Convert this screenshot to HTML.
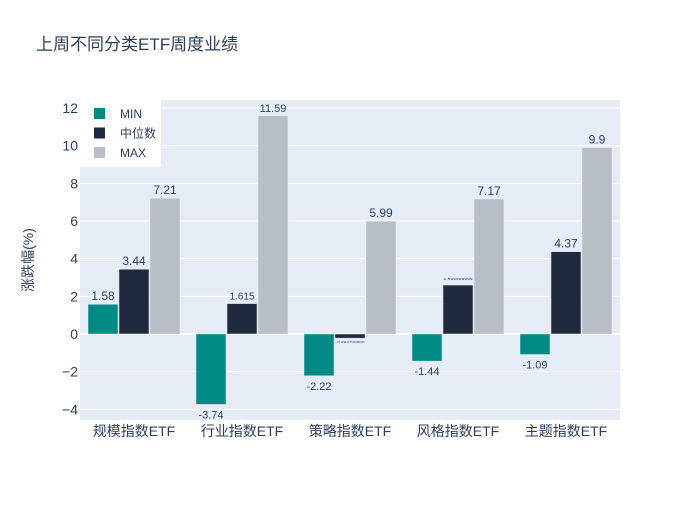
<!DOCTYPE html>
<html><head><meta charset="utf-8"><style>
body{margin:0;background:#fff;font-family:"Liberation Sans","Noto Sans CJK SC",sans-serif;}
</style></head><body>
<svg id="c" width="700" height="500" xmlns="http://www.w3.org/2000/svg" font-family="'Liberation Sans','Noto Sans CJK SC',sans-serif">
<text x="36" y="50" font-size="17" fill="#2a3f5f">上周不同分类ETF周度业绩</text>
<rect x="80" y="100" width="540" height="320" fill="#e5ecf6"/>
<g id="grid"></g><g id="bars"></g><g id="labels"></g>
<text transform="translate(33,260) rotate(-90)" text-anchor="middle" font-size="14" fill="#2a3f5f">涨跌幅(%)</text>
<g id="legend"></g>
</svg>
<script>
const categories=["规模指数ETF","行业指数ETF","策略指数ETF","风格指数ETF","主题指数ETF"];
const minVals=[1.58,-3.74,-2.22,-1.44,-1.09];
const medVals=[3.44,1.615,-0.22,2.6,4.37];
const maxVals=[7.21,11.59,5.99,7.17,9.9];
const minLabels=["1.58","-3.74","-2.22","-1.44","-1.09"];
const medLabels=["3.44","1.615","-0.224700000","2.599999999","4.37"];
const maxLabels=["7.21","11.59","5.99","7.17","9.9"];
const yTicks=[-4,-2,0,2,4,6,8,10,12];
const ns="http://www.w3.org/2000/svg";
const y=v=>334-v*18.83;
const bandX=i=>80+i*108;
function mk(t,a,p){const e=document.createElementNS(ns,t);for(const k in a)e.setAttribute(k,a[k]);p.appendChild(e);return e;}
const grid=document.getElementById('grid'),bars=document.getElementById('bars'),labels=document.getElementById('labels');
yTicks.forEach(t=>{
 const l=mk('line',{x1:80,x2:620,y1:y(t),y2:y(t),stroke:'#fff','stroke-width':t===0?2:1},grid);
 
 
 const tx=mk('text',{x:78,y:y(t)+5,'text-anchor':'end','font-size':14,fill:'#2a3f5f'},grid);
 tx.textContent=t<0?'−'+(-t):t;
 
 
});
const series=[[minVals,minLabels,'#008b87','min'],[medVals,medLabels,'#1f2a3e','median'],[maxVals,maxLabels,'#b8bec6','max']];
categories.forEach((c,i)=>{
 const x0=bandX(i)+8;
 series.forEach((s,j)=>{
  const v=s[0][i],bx=x0+j*31,top=Math.min(y(v),y(0)),h=Math.abs(y(v)-y(0));
  const r=mk('rect',{x:bx,y:top,width:30,height:h,fill:s[2],stroke:'#e5ecf6','stroke-width':0.5},bars);
  
  
  const lab=s[1][i];
  let fs=12;
  if(lab.length>6) fs=2.6; else if(lab.length>4) fs=(j===1?10:11);
  const ty=v>=0?top-4:y(v)+14;
  const attrs={x:bx+15,y:fs<4?(v>=0?top-5:y(v)+5):ty,'text-anchor':'middle','font-size':fs,fill:'#2a3f5f'};
  if(fs<4){attrs['textLength']=29;attrs['lengthAdjust']='spacingAndGlyphs';}
  const t=mk('text',attrs,labels);
  t.textContent=lab;
  
  
 });
 const ct=mk('text',{x:bandX(i)+54,y:436,'text-anchor':'middle','font-size':14,fill:'#2a3f5f'},labels);
 ct.textContent=c;
 
 
});
const lg=document.getElementById('legend');
const bg=mk('rect',{x:80,y:100,width:81,height:67,fill:'#fff'},lg);


[['MIN','#008b87'],['中位数','#1f2a3e'],['MAX','#b8bec6']].forEach((e,k)=>{
 const g=mk('g',{},lg);
 
 
 mk('rect',{x:94,y:108+k*19.5,width:11,height:11,fill:e[1]},g);
 const t=mk('text',{x:120,y:118+k*19.5,'font-size':12,fill:'#2a3f5f'},g);
 t.textContent=e[0];
});
</script>
</body></html>
